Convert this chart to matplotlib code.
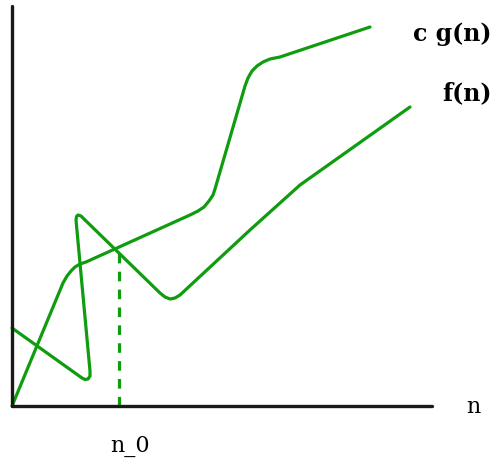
import matplotlib
matplotlib.use("Agg")
import matplotlib.pyplot as plt

# f(n) curve (data units)
f_x = [0, 70, 73, 76, 78, 78, 64, 64.5, 66, 69, 72, 148, 153, 158, 163, 168, 238, 288, 398]
f_y = [78, 28, 26.5, 27, 30, 35, 186, 189.5, 191, 190, 187, 113, 109, 107, 108, 111, 176, 221, 299]
# c g(n) curve
g_x = [0, 51, 55, 59, 63, 68, 74, 178, 186, 192, 197, 201, 203, 233, 236, 240, 245, 251, 258, 268, 358]
g_y = [0, 123, 130, 135, 139, 142, 144, 191, 195, 199, 205, 211, 217, 320, 328, 335, 340, 344, 347, 349, 379]
n0 = 107
n0_y = 157

GREEN = "#0f9c0f"

fig = plt.figure(figsize=(4.99, 4.58), dpi=100)
ax = fig.add_axes([12/499, 52/458, 420/499, 400/458])
ax.set_xlim(0, 420)
ax.set_ylim(0, 400)
ax.set_xticks([])
ax.set_yticks([])
for s in ["top", "right"]:
    ax.spines[s].set_visible(False)
for s in ["left", "bottom"]:
    ax.spines[s].set_linewidth(2.4)
    ax.spines[s].set_color("#1a1a1a")
    ax.spines[s].set_capstyle("round")

ax.plot(f_x, f_y, color=GREEN, lw=2.3, solid_joinstyle="round", solid_capstyle="round", clip_on=False)
ax.plot(g_x, g_y, color=GREEN, lw=2.3, solid_joinstyle="round", solid_capstyle="round", clip_on=False)
ax.plot([n0, n0], [0, n0_y], color=GREEN, lw=2.3, dashes=(3.0, 2.6))

fig.text(413/499, 1 - 41/458, "c g(n)", fontsize=17, fontweight="bold",
         family="DejaVu Serif", ha="left", va="baseline")
fig.text(442/499, 1 - 100/458, "f(n)", fontsize=17, fontweight="bold",
         family="DejaVu Serif", ha="left", va="baseline")
fig.text(466/499, 1 - 413/458, "n", fontsize=16, family="DejaVu Serif",
         ha="left", va="baseline")
fig.text(110/499, 1 - 452/458, "n_0", fontsize=16, family="DejaVu Serif",
         ha="left", va="baseline")

fig.savefig("out.png", dpi=100)
